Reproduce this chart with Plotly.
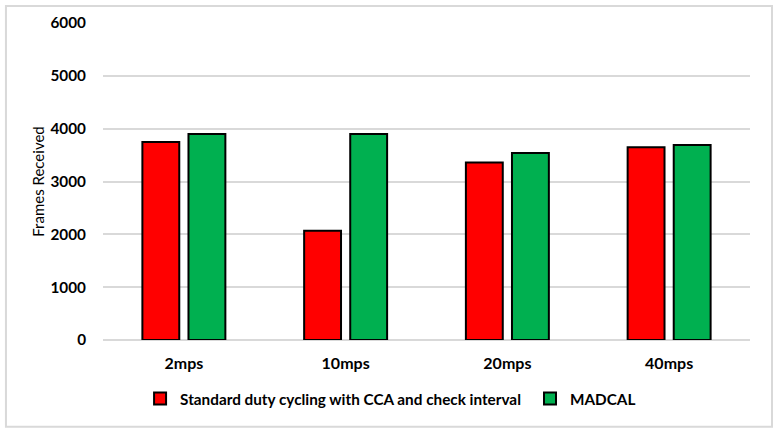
import plotly.graph_objects as go

categories = ["2mps", "10mps", "20mps", "40mps"]
standard = [3750, 2070, 3360, 3650]
madcal = [3900, 3900, 3540, 3690]
y_ticks = [0, 1000, 2000, 3000, 4000, 5000, 6000]

fig = go.Figure()
fig.add_trace(go.Bar(x=categories, y=standard,
                     name="Standard duty cycling with CCA and check interval",
                     marker=dict(color="#FF0000", line=dict(color="black", width=2)),
                     legend="legend"))
fig.add_trace(go.Bar(x=categories, y=madcal, name="MADCAL",
                     marker=dict(color="#00B050", line=dict(color="black", width=2)),
                     legend="legend2"))

legend_font = dict(size=15.3, family="Lato, sans-serif", weight="bold", color="black")
fig.update_layout(
    width=778, height=433,
    margin=dict(l=103, r=28, t=23, b=93, autoexpand=False),
    plot_bgcolor="white", paper_bgcolor="white",
    barmode="group", bargap=0.43, bargroupgap=0.2,
    font=dict(family="Lato, Open Sans, sans-serif", size=16, color="black"),
    showlegend=True,
    legend=dict(orientation="h", x=0.0573, xanchor="left", y=-0.185, yanchor="middle",
                font=legend_font, bgcolor="rgba(0,0,0,0)", itemwidth=30),
    legend2=dict(orientation="h", x=0.660, xanchor="left", y=-0.185, yanchor="middle",
                 font=legend_font, bgcolor="rgba(0,0,0,0)", itemwidth=30),
    shapes=[dict(type="rect", xref="paper", yref="paper",
                 x0=-0.150, x1=1.034, y0=-0.274, y1=1.054,
                 line=dict(color="#D9D9D9", width=2))],
)
fig.update_xaxes(showgrid=False, showline=False, ticks="",
                 tickfont=dict(size=16, weight="bold"), ticklabelstandoff=12)
fig.update_yaxes(range=[0, 6000], tickvals=y_ticks, showgrid=True,
                 gridcolor="#D9D9D9", gridwidth=1.5, zeroline=True,
                 zerolinecolor="#D9D9D9", zerolinewidth=1.5,
                 tickfont=dict(size=15.3, weight="bold"), ticklabelstandoff=16,
                 title=dict(text="Frames Received", font=dict(size=15), standoff=2))

fig.write_html("out.html", config={"displayModeBar": False},
               post_script="document.body.style.margin='0px';")
